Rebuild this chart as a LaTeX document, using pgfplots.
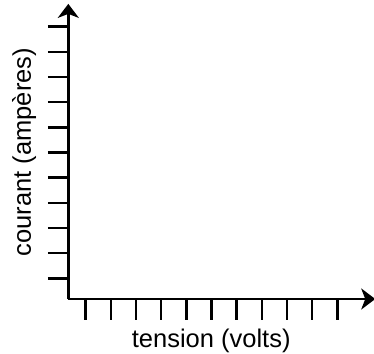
\documentclass[border=0pt]{standalone}
\usepackage{pgfplots}
\pgfplotsset{compat=1.18}
\usetikzlibrary{arrows.meta}
\usepackage{fontspec}
\setmainfont{Liberation Sans}
\begin{document}
\begin{tikzpicture}
\useasboundingbox (0,0) rectangle (374bp,354bp);
\begin{axis}[
  at={(68.3bp,55bp)}, anchor=origin,
  x=25.16bp, y=25.16bp,
  axis lines=left,
  every non boxed x axis/.style={},
  every non boxed y axis/.style={},
  enlargelimits=false,
  xmin=0, xmax=12.2, ymin=0, ymax=11.73,
  axis line style={line width=2.5bp, -{Stealth[length=14bp,width=21bp,inset=4bp]}},
  tick align=outside,
  major tick length=20.5bp,
  tick style={line width=2.5bp, black},
  xtick={0.692,1.692,2.692,3.692,4.692,5.692,6.692,7.692,8.692,9.692,10.692},
  ytick={0.823,1.823,2.823,3.823,4.823,5.823,6.823,7.823,8.823,9.823,10.823},
  xticklabels={}, yticklabels={},
  xlabel={tension (volts)},
  ylabel={courant (ampères)},
  xlabel style={font=\fontsize{25.5bp}{30bp}\selectfont, at={(axis cs:5.68,0)}, anchor=base, yshift=-48.7bp},
  ylabel style={font=\fontsize{25.5bp}{30bp}\selectfont, at={(axis cs:0,5.84)}, anchor=base, yshift=37.5bp},
]
\end{axis}
\end{tikzpicture}
\end{document}
